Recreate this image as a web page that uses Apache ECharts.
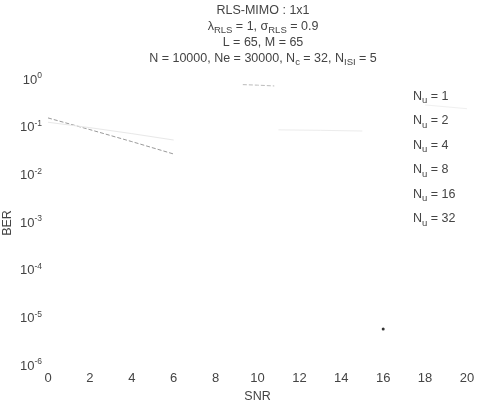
<!DOCTYPE html>
<html>
<head>
<meta charset="utf-8">
<script src="https://cdn.jsdelivr.net/npm/echarts@6/dist/echarts.min.js"></script>
<style>
  html, body { margin: 0; padding: 0; background: #fff; }
  #chart { width: 478px; height: 406px; }
</style>
</head>
<body>
<div id="chart"></div>
<script>
const userCounts = [1, 2, 4, 8, 16, 32];
const xTicks = [0, 2, 4, 6, 8, 10, 12, 14, 16, 18, 20];

// only faint fragments of the curves survive in the picture
const snr1 = [0, 2, 4, 6];
const ber1 = [0.16, 0.091, 0.051, 0.028];
const snr2 = [0, 2, 4, 6];
const ber2 = [0.13, 0.1, 0.075, 0.055];
const snr4 = [11, 13, 15];
const ber4 = [0.09, 0.088, 0.085];
const snr8 = [9.3, 10, 10.8];
const ber8 = [0.8, 0.78, 0.75];
const snr16 = [18, 20];
const ber16 = [0.3, 0.25];
const snr32 = [16];
const ber32 = [6e-6];

const snrs = [snr1, snr2, snr4, snr8, snr16, snr32];
const bers = [ber1, ber2, ber4, ber8, ber16, ber32];
const colors = ['#9a9a9a', '#e8e8e8', '#ececec', '#bbbbbb', '#f0f0f0', '#333333'];
const dashed = [true, false, false, true, false, false];

const txt = '#444';
const font = 'Liberation Sans';

const series = userCounts.map((n, i) => ({
    name: 'Nu' + n,
    type: 'line',
    data: snrs[i].map((s, j) => [s, bers[i][j]]),
    showSymbol: i === 5,
    symbol: 'circle',
    symbolSize: 3,
    itemStyle: {color: colors[i]},
    lineStyle: {color: colors[i], width: 1, type: dashed[i] ? 'dashed' : 'solid'},
    silent: true
}));

const chart = echarts.init(document.getElementById('chart'));
chart.setOption({
    animation: false,
    backgroundColor: '#fff',
    textStyle: {fontFamily: font, color: txt},
    title: {
        left: 258,
        textAlign: 'center',
        top: -2,
        text: 'RLS-MIMO : 1x1\n{t|λ}{s|RLS}{t| = 1, σ}{s|RLS}{t| = 0.9}\nL = 65, M = 65\nN = 10000, Ne = 30000, N{s|c}{t| = 32, N}{s|ISI}{t| = 5}',
        textStyle: {
            fontFamily: font, fontSize: 12.5, fontWeight: 'normal', color: txt, lineHeight: 16,
            rich: {
                t: {fontSize: 12.5, color: txt, fontFamily: font},
                s: {fontSize: 9.5, color: txt, fontFamily: font, verticalAlign: 'bottom', padding: [7, 0, 0, 0]}
            }
        }
    },
    grid: {left: 48, right: 11, top: 80, bottom: 40, outerBoundsMode: 'none', containLabel: false},
    legend: {
        orient: 'vertical',
        left: 369,
        top: 85,
        itemWidth: 33,
        itemHeight: 10,
        itemGap: 9,
        itemStyle: {opacity: 0},
        lineStyle: {opacity: 0},
        data: series.map(s => s.name),
        formatter: name => '{a|N}{b|u}{a| = ' + name.slice(2) + '}',
        textStyle: {
            color: txt,
            rich: {
                a: {fontSize: 12.5, color: txt, fontFamily: font},
                b: {fontSize: 9.5, color: txt, fontFamily: font, verticalAlign: 'bottom', padding: [8, 0, 0, 0]}
            }
        }
    },
    xAxis: {
        type: 'value',
        min: 0,
        max: 20,
        interval: 2,
        name: 'SNR',
        nameLocation: 'middle',
        nameGap: 19,
        nameTextStyle: {fontSize: 12.5, color: txt},
        axisLine: {show: false},
        axisTick: {show: false},
        splitLine: {show: false},
        axisLabel: {fontSize: 13, color: txt, margin: 6,
            formatter: v => xTicks.includes(v) ? String(v) : ''}
    },
    yAxis: {
        type: 'log',
        logBase: 10,
        min: 1e-6,
        max: 1,
        name: 'BER',
        nameLocation: 'middle',
        nameGap: 34,
        nameMoveOverlap: false,
        nameTextStyle: {fontSize: 12.5, color: txt},
        axisLine: {show: false},
        axisTick: {show: false},
        splitLine: {show: false},
        axisLabel: {
            margin: 6,
            formatter: v => '{b|10}{e|' + Math.round(Math.log10(v)) + '}',
            rich: {
                b: {fontSize: 13, color: txt, fontFamily: font},
                e: {fontSize: 8.5, color: txt, fontFamily: font, verticalAlign: 'top', padding: [0, 0, 8, 0]}
            }
        }
    },
    series: series
});
</script>
</body>
</html>
